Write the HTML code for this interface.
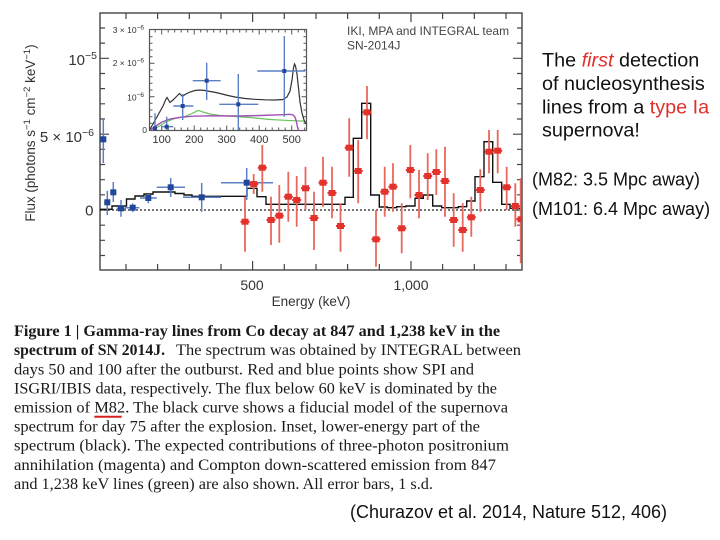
<!DOCTYPE html>
<html><head><meta charset="utf-8"><style>html,body{margin:0;padding:0;background:#fff;}svg{display:block;}</style></head>
<body>
<svg width="720" height="540" viewBox="0 0 720 540" xmlns="http://www.w3.org/2000/svg">
<rect width="720" height="540" fill="#fff"/>
<g font-family="Liberation Sans, Arial, sans-serif" fill="#333">
<!-- Main frame -->
<rect x="100" y="13" width="422" height="257" fill="#fff" stroke="#444" stroke-width="1.4"/>
<!-- y ticks -->
<path stroke="#444" stroke-width="1.2" fill="none" d="
M100 255.5h5 M100 240.3h5 M100 225.2h5 M100 210h9 M100 194.8h5 M100 179.7h5 M100 164.5h5 M100 149.3h5 M100 134.2h9 M100 119h5 M100 103.8h5 M100 88.6h5 M100 73.5h5 M100 58.3h9 M100 43.1h5 M100 28h5
M522 255.5h-5 M522 240.3h-5 M522 225.2h-5 M522 210h-9 M522 194.8h-5 M522 179.7h-5 M522 164.5h-5 M522 149.3h-5 M522 134.2h-9 M522 119h-5 M522 103.8h-5 M522 88.6h-5 M522 73.5h-5 M522 58.3h-9 M522 43.1h-5 M522 28h-5
M126 270v-6 M157.6 270v-6 M189.3 270v-6 M221 270v-6 M252.6 270v-9 M284.3 270v-6 M316 270v-6 M347.6 270v-6 M379.3 270v-6 M411 270v-9 M442.6 270v-6 M474.3 270v-6 M506 270v-6
M126 13v6 M157.6 13v6 M189.3 13v6 M221 13v6 M252.6 13v9 M284.3 13v6 M316 13v6 M347.6 13v6 M379.3 13v6 M411 13v9 M442.6 13v6 M474.3 13v6 M506 13v6"/>
<!-- zero dotted line -->
<line x1="100" y1="210" x2="522" y2="210" stroke="#222" stroke-width="1.2" stroke-dasharray="2,2"/>
<!-- model histogram -->
<path fill="none" stroke="#111" stroke-width="1.4" d="M100 209.3 H112 V206 H126.5 V199 H135 V196 H144 V194 H153 V192 H175 V193.5 H184 V195 H192 V196.3 H247 V188.3 H257 V196.7 H266 V204.3 H345 V197.3 H353.3 V138.3 H361.7 V103.3 H370.7 V195 H379.3 V207 H387.3 V207.7 H396.7 V206.7 H406 V206 H415 V198.3 H423.3 V195 H432.7 V206 H441.7 V207.7 H458.3 V206.7 H466.7 V201 H475 V176.7 H484 V141.7 H492.7 V182.3 H501.7 V204.3 H510 V208.3 H522"/>
<!-- blue error bars -->
<g stroke="#5b80c4" stroke-width="1.5">
<path d="M103.3 118V163 M107.3 190.7V215 M104.3 202.3h6 M113.3 182V202 M110.3 192.3h6 M121 200V216.7 M116.7 208.3H126 M132.7 203.5V212 M125 207.7H139.3 M148.3 194V203.3 M140 198H156.7 M170.7 178V197 M156.7 187.3H185 M201.7 183V211.7 M183 197.3H221 M246.7 168V200 M221 182.7H273"/>
</g>
<g fill="#21479a">
<rect x="100.3" y="136.3" width="6" height="6"/><rect x="104.3" y="199.3" width="6" height="6"/><rect x="110.3" y="189.3" width="6" height="6"/><rect x="118" y="205.3" width="6" height="6"/><rect x="129.7" y="204.7" width="6" height="6"/><rect x="145.3" y="195" width="6" height="6"/><rect x="167.7" y="184.3" width="6" height="6"/><rect x="198.7" y="194.3" width="6" height="6"/><rect x="243.7" y="179.7" width="6" height="6"/>
</g>
<!-- red error bars -->
<g stroke="#e8675c" stroke-width="1.8">
<path d="M245 196.7V251.7 M253.7 174V194 M262.3 145V191.7 M271 196.7V245 M279.3 185V242.7 M288.3 171.7V221.7 M296.7 176V226.7 M305.5 166.7V210 M314 191.7V250 M323 156.7V206.7 M332 166.7V218.3 M340.5 203.3V251.7 M349.2 118.3V176.7 M358.2 140V203.3 M367 86V139.3 M376 210V266.7 M384.7 166.7V216.7 M393 163.3V211.7 M401.7 203.3V253.3 M410.3 145V198.3 M419 170V218.3 M427.7 153.3V200 M436.3 149.3V195 M445 146.7V216.7 M453.7 193.3V246.7 M462.7 203.3V251.7 M471.3 196.7V236.7 M480.3 169.3V211.7 M489 130V173.3 M497.7 130V173.3 M506.7 166.7V210 M515.3 183.3V226.7 M520.7 178.3V263.3"/>
</g>
<g stroke="#e2322b" stroke-width="2">
<path d="M240.5 221.7h9 M249.2 184h9 M257.8 167.7h9 M266.5 220h9 M274.8 215.7h9 M283.8 196.7h9 M292.2 200h9 M301 188.3h9 M309.5 218h9 M318.5 182.7h9 M327.5 193h9 M336 226h9 M344.7 147.7h9 M353.7 171h9 M362.5 112.3h9 M371.5 239.3h9 M380.2 191.7h9 M388.5 186.7h9 M397.2 228.3h9 M405.8 170h9 M414.5 195h9 M423.2 176h9 M431.8 172h9 M440.5 181h9 M449.2 220h9 M458.2 230h9 M466.8 217.3h9 M475.8 190h9 M484.5 151.7h9 M493.2 150.7h9 M502.2 187.3h9 M510.8 206h9 M516.2 219.3h5.8"/>
</g>
<g fill="#e2322b">
<rect x="241.5" y="218.7" width="7" height="6"/><rect x="250.2" y="181" width="7" height="6"/><rect x="258.8" y="164.7" width="7" height="6"/><rect x="267.5" y="217" width="7" height="6"/><rect x="275.8" y="212.7" width="7" height="6"/><rect x="284.8" y="193.7" width="7" height="6"/><rect x="293.2" y="197" width="7" height="6"/><rect x="302" y="185.3" width="7" height="6"/><rect x="310.5" y="215" width="7" height="6"/><rect x="319.5" y="179.7" width="7" height="6"/><rect x="328.5" y="190" width="7" height="6"/><rect x="337" y="223" width="7" height="6"/><rect x="345.7" y="144.7" width="7" height="6"/><rect x="354.7" y="168" width="7" height="6"/><rect x="363.5" y="109.3" width="7" height="6"/><rect x="372.5" y="236.3" width="7" height="6"/><rect x="381.2" y="188.7" width="7" height="6"/><rect x="389.5" y="183.7" width="7" height="6"/><rect x="398.2" y="225.3" width="7" height="6"/><rect x="406.8" y="167" width="7" height="6"/><rect x="415.5" y="192" width="7" height="6"/><rect x="424.2" y="173" width="7" height="6"/><rect x="432.8" y="169" width="7" height="6"/><rect x="441.5" y="178" width="7" height="6"/><rect x="450.2" y="217" width="7" height="6"/><rect x="459.2" y="227" width="7" height="6"/><rect x="467.8" y="214.3" width="7" height="6"/><rect x="476.8" y="187" width="7" height="6"/><rect x="485.5" y="148.7" width="7" height="6"/><rect x="494.2" y="147.7" width="7" height="6"/><rect x="503.2" y="184.3" width="7" height="6"/><rect x="511.8" y="203" width="7" height="6"/><rect x="517.5" y="216.3" width="4.5" height="6"/>
</g>
<!-- header text -->
<text x="347" y="35" font-size="12" fill="#444">IKI, MPA and INTEGRAL team</text>
<text x="347" y="49.3" font-size="12" fill="#444">SN-2014J</text>
<!-- y tick labels -->
<text x="97" y="65" font-size="15" text-anchor="end">10<tspan font-size="10.5" dy="-6">−5</tspan></text>
<text x="94" y="142" font-size="15" text-anchor="end">5 × 10<tspan font-size="10.5" dy="-6">−6</tspan></text>
<text x="93.5" y="215.5" font-size="15" text-anchor="end">0</text>
<!-- x tick labels -->
<text x="252" y="290" font-size="14" text-anchor="middle">500</text>
<text x="411" y="290" font-size="14" text-anchor="middle">1,000</text>
<text x="311" y="306" font-size="13.5" text-anchor="middle">Energy (keV)</text>
<!-- y axis label -->
<text transform="translate(35,133) rotate(-90)" font-size="13.4" text-anchor="middle">Flux (photons s<tspan font-size="9.6" dy="-5">−1</tspan><tspan dy="5"> cm</tspan><tspan font-size="9.6" dy="-5">−2</tspan><tspan dy="5"> keV</tspan><tspan font-size="9.6" dy="-5">−1</tspan><tspan dy="5">)</tspan></text>

<!-- Inset -->
<rect x="149.5" y="29.5" width="157" height="101" fill="#fff" stroke="#555" stroke-width="1.2"/>
<path stroke="#555" stroke-width="1" fill="none" d="
M155.2 130.5v-3 M161.7 130.5v-5 M168.2 130.5v-3 M174.7 130.5v-3 M181.2 130.5v-3 M187.7 130.5v-3 M194.2 130.5v-5 M200.7 130.5v-3 M207.2 130.5v-3 M213.7 130.5v-3 M220.2 130.5v-3 M226.7 130.5v-5 M233.2 130.5v-3 M239.7 130.5v-3 M246.2 130.5v-3 M252.7 130.5v-3 M259.2 130.5v-5 M265.7 130.5v-3 M272.2 130.5v-3 M278.7 130.5v-3 M285.2 130.5v-3 M291.7 130.5v-5 M298.2 130.5v-3 M304.7 130.5v-3
M155.2 29.5v3 M161.7 29.5v5 M168.2 29.5v3 M174.7 29.5v3 M181.2 29.5v3 M187.7 29.5v3 M194.2 29.5v5 M200.7 29.5v3 M207.2 29.5v3 M213.7 29.5v3 M220.2 29.5v3 M226.7 29.5v5 M233.2 29.5v3 M239.7 29.5v3 M246.2 29.5v3 M252.7 29.5v3 M259.2 29.5v5 M265.7 29.5v3 M272.2 29.5v3 M278.7 29.5v3 M285.2 29.5v3 M291.7 29.5v5 M298.2 29.5v3 M304.7 29.5v3
M149.5 123.3h3 M149.5 116.7h3 M149.5 110h3 M149.5 103.3h3 M149.5 96.7h5 M149.5 90h3 M149.5 83.3h3 M149.5 76.7h3 M149.5 70h3 M149.5 63.3h5 M149.5 56.7h3 M149.5 50h3 M149.5 43.3h3 M149.5 36.7h3
M306.5 123.3h-3 M306.5 116.7h-3 M306.5 110h-3 M306.5 103.3h-3 M306.5 96.7h-5 M306.5 90h-3 M306.5 83.3h-3 M306.5 76.7h-3 M306.5 70h-3 M306.5 63.3h-5 M306.5 56.7h-3 M306.5 50h-3 M306.5 43.3h-3 M306.5 36.7h-3"/>
<!-- inset curves -->
<path fill="none" stroke="#6ac45a" stroke-width="1.2" d="M150 130 L158 127 L166 122 L175 118.5 L185 116.5 L192 113.5 L197 111 L199 110.5 L203 112 L210 114 L220 115.5 L235 116.5 L250 117.5 L260 118.5 L270 119.5 L285 120.3 L300 121 L306 121.3"/>
<path fill="none" stroke="#a050b8" stroke-width="1.4" d="M150 130 L155 126.5 L162 122 L170 119 L180 117.3 L193 116.2 L210 115.8 L240 116 L260 115.5 L280 114.8 L290 114.3 L293 115 L295 117 L296.5 122 L297.5 127 L298.5 130.5"/>
<path fill="none" stroke="#333" stroke-width="1.2" d="M150 129 L153 124 L158 115 L163 106 L166 99 L167 97.5 L168.5 100 L170 102.5 L173 100 L176 97 L178 95 L179.5 93.5 L181 95 L182.5 96.5 L185 94.5 L190 92 L195 90.5 L200 90 L205 90.5 L210 91.5 L216 92.5 L222 94 L228 95.5 L235 97 L245 98.5 L255 99.3 L265 99.8 L275 100 L283 99.5 L287 97 L290 91 L292 80 L293.5 68 L294.5 64 L295.5 66 L297 74 L298.5 88 L300 102 L302 113 L304 120 L306 124"/>
<!-- inset blue points -->
<g stroke="#5b80c4" stroke-width="1.4">
<path d="M155 113.3V130 M166.7 116.7V130 M161.7 126.7H173.3 M182.7 94V120 M173.3 106H193.3 M206.7 62.7V100 M192.7 80.7H220.7 M238.3 74V130 M219.3 104.3H258.3 M284.3 36V116.7 M257.3 71H305"/>
</g>
<g fill="#21479a">
<rect x="153" y="126.3" width="4" height="4"/><rect x="164.7" y="124.7" width="4" height="4"/><rect x="180.7" y="104" width="4" height="4"/><rect x="204.7" y="78.7" width="4" height="4"/><rect x="236.3" y="102.3" width="4" height="4"/><rect x="282.3" y="69" width="4" height="4"/>
</g>
<!-- inset labels -->
<g font-size="11" text-anchor="middle">
<text x="161.7" y="143">100</text><text x="194.2" y="143">200</text><text x="226.7" y="143">300</text><text x="259.2" y="143">400</text><text x="291.7" y="143">500</text>
</g>
<g font-size="8.5" text-anchor="end">
<text x="144" y="33">3 × 10<tspan font-size="6.5" dy="-3.5">−6</tspan></text>
<text x="144" y="66">2 × 10<tspan font-size="6.5" dy="-3.5">−6</tspan></text>
<text x="144" y="100.5">10<tspan font-size="6.5" dy="-3.5">−6</tspan></text>
<text x="147" y="133">0</text>
</g>
</g>

<!-- right-side text -->
<g font-family="Liberation Sans, Arial, sans-serif" fill="#111">
<text x="542" y="66.7" font-size="19.8">The <tspan fill="#e0302a" font-style="italic">first</tspan> detection</text>
<text x="542" y="90" font-size="19.8">of nucleosynthesis</text>
<text x="542" y="113.3" font-size="19.8">lines from a <tspan fill="#e0302a">type Ia</tspan></text>
<text x="542" y="136.7" font-size="19.8">supernova!</text>
<text x="532" y="185.5" font-size="18">(M82: 3.5 Mpc away)</text>
<text x="532" y="215" font-size="18">(M101: 6.4 Mpc away)</text>
<text x="350" y="518" font-size="18" textLength="317" lengthAdjust="spacingAndGlyphs">(Churazov et al. 2014, Nature 512, 406)</text>
</g>

<!-- caption -->
<g font-family="Liberation Serif, 'Times New Roman', serif" font-size="16" fill="#1a1a1a">
<text x="14" y="336" font-weight="bold" textLength="486" lengthAdjust="spacingAndGlyphs">Figure 1 | Gamma-ray lines from Co decay at 847 and 1,238 keV in the</text>
<text x="14" y="355.2" font-weight="bold" textLength="151" lengthAdjust="spacingAndGlyphs">spectrum of SN 2014J.</text>
<text x="176" y="355.2" textLength="345" lengthAdjust="spacingAndGlyphs">The spectrum was obtained by INTEGRAL between</text>
<text x="14" y="374.3" textLength="460" lengthAdjust="spacingAndGlyphs">days 50 and 100 after the outburst. Red and blue points show SPI and</text>
<text x="14" y="393.4" textLength="483" lengthAdjust="spacingAndGlyphs">ISGRI/IBIS data, respectively. The flux below 60 keV is dominated by the</text>
<text x="14" y="412.5" textLength="494" lengthAdjust="spacingAndGlyphs">emission of M82. The black curve shows a fiducial model of the supernova</text>
<text x="14" y="431.6" textLength="466" lengthAdjust="spacingAndGlyphs">spectrum for day 75 after the explosion. Inset, lower-energy part of the</text>
<text x="14" y="450.7" textLength="495" lengthAdjust="spacingAndGlyphs">spectrum (black). The expected contributions of three-photon positronium</text>
<text x="14" y="469.8" textLength="482" lengthAdjust="spacingAndGlyphs">annihilation (magenta) and Compton down-scattered emission from 847</text>
<text x="14" y="488.9" textLength="419" lengthAdjust="spacingAndGlyphs">and 1,238 keV lines (green) are also shown. All error bars, 1 s.d.</text>
</g>
<line x1="94.3" y1="416.7" x2="121.7" y2="416.7" stroke="#d42020" stroke-width="2"/>
</svg>
</body></html>
